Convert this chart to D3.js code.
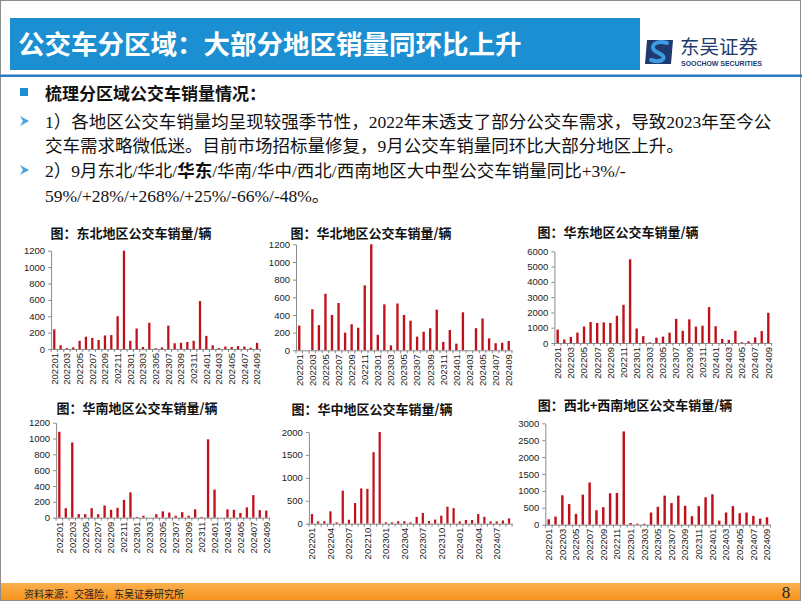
<!DOCTYPE html>
<html><head><meta charset="utf-8">
<script src="https://cdn.jsdelivr.net/npm/d3@7/dist/d3.min.js"></script>
<style>body{margin:0;background:#fff}svg{display:block}</style>
</head><body><svg id="c" width="802" height="602"></svg>
<script>
// ---------- DATA ----------
const months = ["202201","202202","202203","202204","202205","202206","202207","202208","202209","202210","202211","202212",
"202301","202302","202303","202304","202305","202306","202307","202308","202309","202310","202311","202312",
"202401","202402","202403","202404","202405","202406","202407","202408","202409"];
const northeast = [240,45,10,20,100,150,135,110,165,170,400,1200,100,250,25,320,10,20,285,70,75,85,100,585,160,45,10,30,25,35,30,15,75];
const northChina = [280,0,465,285,640,400,535,200,295,255,735,1200,175,520,55,530,400,335,155,210,250,460,95,230,75,430,0,250,360,135,80,85,105];
const eastChina = [880,230,400,680,1080,1370,1310,1350,1310,1780,2500,5480,950,450,40,350,420,680,1580,800,1550,1070,1130,2350,1100,270,200,800,50,110,370,780,1980];
const southChina = [1085,120,950,45,45,120,45,155,100,125,225,320,10,25,0,45,80,65,25,70,25,105,10,990,355,0,105,100,60,130,285,95,90];
const centralChina = [210,50,55,270,30,720,85,450,770,760,1560,2000,30,30,55,55,30,150,235,60,90,175,370,340,50,80,80,210,150,50,50,70,115];
const westChina = [160,240,870,610,320,890,1250,430,520,930,940,2760,50,30,30,360,530,860,640,860,560,250,550,810,900,120,360,550,340,360,260,180,220];
const ticks1200 = [0,200,400,600,800,1000,1200];
const ticks6000 = [0,1000,2000,3000,4000,5000,6000];
const ticks2000 = [0,500,1000,1500,2000];
const ticks3000 = [0,500,1000,1500,2000,2500,3000];
const chartTitles = ["图：东北地区公交车销量/辆","图：华北地区公交车销量/辆","图：华东地区公交车销量/辆",
  "图：华南地区公交车销量/辆","图：华中地区公交车销量/辆","图：西北+西南地区公交车销量/辆"];

const svg = d3.select("#c");
const CJK = "'Noto Sans CJK SC','Noto Sans',sans-serif";
const BODY = "'Liberation Serif','Noto Sans CJK SC',serif";
const BLUE = "#1b8fd2";

// frame
svg.append("rect").attr("x",0.5).attr("y",0.5).attr("width",800).attr("height",600).attr("fill","#fff").attr("stroke","#8c8c8c");

// title bar
svg.append("rect").attr("x",10).attr("y",18).attr("width",630).attr("height",52).attr("fill",BLUE);
svg.append("text").attr("x",18).attr("y",53.5).attr("fill","#fff").attr("font-family",CJK).attr("font-weight","bold")
  .attr("font-size",26.5).text("公交车分区域：大部分地区销量同环比上升");
svg.append("rect").attr("x",0).attr("y",74.5).attr("width",802).attr("height",2.5).attr("fill","#2a7cc2");

// logo
const lg = svg.append("g");
lg.append("path").attr("d","M647,40 L673,40 L671,64 L645,64 Z").attr("fill","#1e3a6e");
lg.append("path").attr("d","M667,43 C657,40 649,45 655,51 L662,55 C667,59 660,63 651,60")
  .attr("fill","none").attr("stroke","#3d9be0").attr("stroke-width",4).attr("stroke-linecap","round");
lg.append("text").attr("x",680).attr("y",54).attr("font-family",CJK).attr("font-size",19.5).attr("fill","#1e3a6e").text("东吴证券");
lg.append("text").attr("x",681).attr("y",65.5).attr("font-family","'Liberation Sans',sans-serif").attr("font-weight","bold")
  .attr("font-size",6.5).attr("fill","#1e3a6e").attr("textLength",81).attr("lengthAdjust","spacingAndGlyphs").text("SOOCHOW SECURITIES");

// body text
svg.append("rect").attr("x",20).attr("y",88).attr("width",8).attr("height",8).attr("fill",BLUE);
svg.append("text").attr("x",45).attr("y",99.5).attr("font-family",CJK).attr("font-weight","bold").attr("font-size",17)
  .attr("fill","#111").text("梳理分区域公交车销量情况：");
function arrow(cy){
  svg.append("path").attr("d",`M20,${cy-5} L29,${cy} L20,${cy+5} L23,${cy} Z`).attr("fill","#4aa3df");
}
arrow(121); arrow(170);
const bodyLines = [
  {y:127.5, parts:[{t:"1）各地区公交车销量均呈现较强季节性，2022年末透支了部分公交车需求，导致2023年至今公"}]},
  {y:151.5, parts:[{t:"交车需求略微低迷。目前市场招标量修复，9月公交车销量同环比大部分地区上升。"}]},
  {y:176.5, parts:[{t:"2）9月东北/华北/"},{t:"华东",b:true},{t:"/华南/华中/西北/西南地区大中型公交车销量同比+3%/-"}]},
  {y:201.5, parts:[{t:"59%/+28%/+268%/+25%/-66%/-48%。"}]}
];
bodyLines.forEach(l=>{
  const t = svg.append("text").attr("x",45).attr("y",l.y).attr("font-family",BODY).attr("font-size",17.5).attr("fill","#111");
  l.parts.forEach(p=>t.append("tspan").attr("font-weight",p.b?"bold":"normal").text(p.t));
});

// charts
const charts = [
  {vals:northeast, ticks:ticks1200, max:1200, x0:51.1, x1:260.2, y0:349, yTop:250.7, every:2, tx:131, ty:233},
  {vals:northChina, ticks:ticks1200, max:1200, x0:296.0, x1:512.0, y0:350.3, yTop:244.3, every:2, tx:371, ty:233},
  {vals:eastChina, ticks:ticks6000, max:6000, x0:554.4, x1:771.6, y0:343, yTop:251.3, every:2, tx:618, ty:232},
  {vals:southChina, ticks:ticks1200, max:1200, x0:56.1, x1:269.5, y0:517.7, yTop:422.7, every:2, tx:137, ty:408},
  {vals:centralChina, ticks:ticks2000, max:2000, x0:308.9, x1:512.1, y0:523.7, yTop:432, every:3, tx:372, ty:409},
  {vals:westChina, ticks:ticks3000, max:3000, x0:545.3, x1:770.4, y0:524.7, yTop:423.3, every:2, tx:635, ty:405}
];
charts.forEach((c,ci)=>{
  const x = d3.scaleBand().domain(months).range([c.x0,c.x1]).padding(0);
  const y = d3.scaleLinear().domain([0,c.max]).range([c.y0,c.yTop]);
  const g = svg.append("g");
  const bw = Math.max(2, x.bandwidth()*0.36);
  g.selectAll("rect.bar").data(c.vals).join("rect").attr("class","bar")
    .attr("x",(d,i)=>x(months[i])+x.bandwidth()/2-bw/2).attr("y",d=>y(d))
    .attr("width",bw).attr("height",d=>y(0)-y(d)).attr("fill","#c0101a");
  const ya = g.append("g").attr("transform",`translate(${c.x0},0)`)
    .call(d3.axisLeft(y).tickValues(c.ticks).tickSize(3).tickSizeOuter(0).tickPadding(3).tickFormat(d3.format("d")));
  ya.select(".domain").attr("stroke","#8a8a8a");
  ya.selectAll(".tick line").attr("stroke","#8a8a8a");
  ya.selectAll("text").attr("font-family","'Liberation Sans',Arial,sans-serif").attr("font-size",9.5).attr("fill","#222");
  const xa = g.append("g").attr("transform",`translate(0,${c.y0})`)
    .call(d3.axisBottom(x).tickValues(months.filter((m,i)=>i%c.every===0)).tickSize(0).tickSizeOuter(0).tickPadding(0));
  xa.select(".domain").attr("stroke","#8a8a8a");
  xa.selectAll("text").attr("transform","rotate(-90)").attr("text-anchor","end").attr("x",-4).attr("y",0).attr("dy","0.35em")
    .attr("font-family","'Liberation Sans',Arial,sans-serif").attr("font-size",9.5).attr("fill","#222");
  g.selectAll("line.ct").data(d3.range(months.length+1)).join("line").attr("class","ct")
    .attr("x1",i=>c.x0+i*x.step()).attr("x2",i=>c.x0+i*x.step()).attr("y1",c.y0).attr("y2",c.y0+3).attr("stroke","#8a8a8a");
  svg.append("text").attr("x",c.tx).attr("y",c.ty+4.8).attr("text-anchor","middle").attr("font-family",CJK)
    .attr("font-weight","bold").attr("font-size",13).attr("fill","#111").text(chartTitles[ci]);
});

// footer
const grad = svg.append("defs").append("linearGradient").attr("id","og").attr("x1",0).attr("y1",0).attr("x2",0).attr("y2",1);
grad.append("stop").attr("offset","0%").attr("stop-color","#fbb04f");
grad.append("stop").attr("offset","100%").attr("stop-color","#f7941d");
svg.append("rect").attr("x",1).attr("y",583).attr("width",799).attr("height",17).attr("fill","url(#og)");
svg.append("text").attr("x",24).attr("y",597.5).attr("font-family",CJK).attr("font-size",10.5).attr("fill","#222")
  .attr("textLength",160).attr("lengthAdjust","spacingAndGlyphs").text("资料来源：交强险，东吴证券研究所");
svg.append("text").attr("x",786).attr("y",598).attr("text-anchor","middle").attr("font-family","'Liberation Serif',serif")
  .attr("font-size",17).attr("fill","#222").text("8");
</script></body></html>
